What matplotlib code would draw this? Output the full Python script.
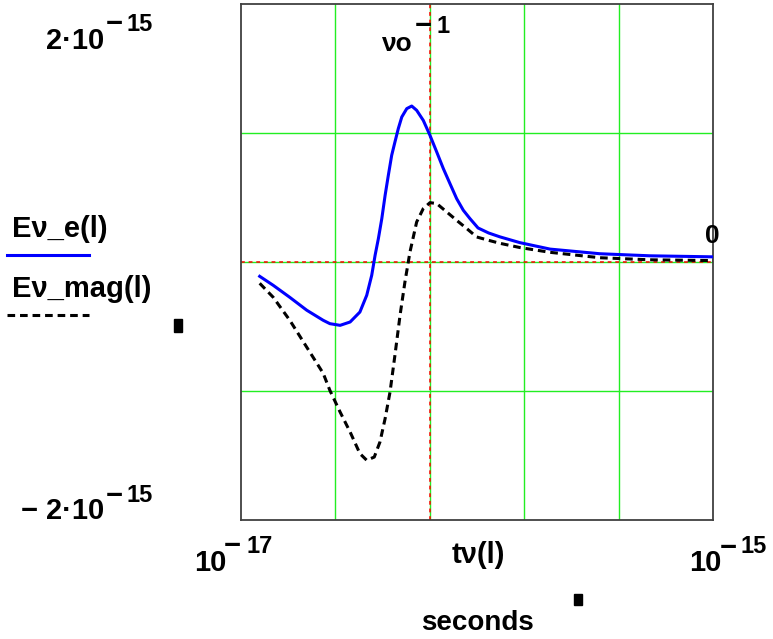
import numpy as np
import matplotlib
matplotlib.use("Agg")
import matplotlib.pyplot as plt
from matplotlib.lines import Line2D
from matplotlib.patches import Rectangle

plt.rcParams['font.family'] = ['Liberation Sans', 'DejaVu Sans']

# Ev_e(l) - solid blue
t_e = np.array([1.20e-17, 1.37e-17, 1.61e-17, 1.90e-17, 2.23e-17, 2.38e-17, 2.63e-17,
                2.90e-17, 3.19e-17, 3.41e-17, 3.58e-17, 3.70e-17, 3.82e-17, 3.95e-17,
                4.08e-17, 4.21e-17, 4.35e-17, 4.49e-17, 4.64e-17, 4.80e-17, 5.04e-17,
                5.29e-17, 5.55e-17, 5.92e-17, 6.32e-17, 6.75e-17, 7.20e-17, 7.68e-17,
                8.20e-17, 8.75e-17, 9.34e-17, 1.01e-16, 1.12e-16, 1.25e-16, 1.52e-16,
                2.04e-16, 3.32e-16, 5.41e-16, 1.00e-15])
E_e = np.array([-0.111, -0.181, -0.274, -0.374, -0.452, -0.478, -0.491,
                -0.465, -0.388, -0.258, -0.103, 0.052, 0.181, 0.336,
                0.517, 0.672, 0.827, 0.930, 1.034, 1.124, 1.189,
                1.209, 1.176, 1.098, 0.982, 0.853, 0.724, 0.608,
                0.491, 0.401, 0.336, 0.264, 0.225, 0.195, 0.150,
                0.100, 0.064, 0.048, 0.040]) * 1e-15

# Ev_mag(l) - dashed black
t_mag = np.array([1.20e-17, 1.37e-17, 1.61e-17, 1.90e-17, 2.23e-17, 2.38e-17, 2.63e-17,
                  2.90e-17, 3.19e-17, 3.41e-17, 3.67e-17, 3.88e-17, 4.08e-17, 4.28e-17,
                  4.49e-17, 4.72e-17, 4.95e-17, 5.20e-17, 5.55e-17, 5.92e-17, 6.32e-17,
                  6.75e-17, 7.44e-17, 8.20e-17, 9.05e-17, 9.97e-17, 1.12e-16, 1.25e-16,
                  1.52e-16, 2.04e-16, 3.32e-16, 5.41e-16, 1.00e-15])
E_mag = np.array([-0.165, -0.274, -0.452, -0.661, -0.863, -0.995, -1.163,
                  -1.318, -1.485, -1.537, -1.512, -1.395, -1.214, -1.008,
                  -0.723, -0.413, -0.155, 0.078, 0.310, 0.414, 0.460,
                  0.453, 0.388, 0.323, 0.259, 0.194, 0.168, 0.145,
                  0.112, 0.075, 0.033, 0.017, 0.011]) * 1e-15

t_min, t_max = 1e-17, 1e-15
E_min, E_max = -2e-15, 2e-15
nu0_inv = 10 ** -16.2

W, H = 773, 639
fig = plt.figure(figsize=(W / 100, H / 100), dpi=100)
ax = fig.add_axes([241 / W, 1 - 520 / H, 472 / W, 516 / H])

# grid (5 equal divisions in x, 4 in y)
for gx in np.logspace(-17, -15, 6)[1:-1]:
    ax.axvline(gx, color='#22ee22', lw=1, zorder=1)
for gy in [-1e-15, 0, 1e-15]:
    ax.axhline(gy, color='#22ee22', lw=1, zorder=1)

# marker lines
ax.axhline(0, color='red', lw=1.1, ls=(0, (2.5, 2.5)), zorder=2)
ax.axvline(nu0_inv, color='red', lw=1.1, ls=(0, (2.5, 2.5)), zorder=2)

ax.plot(t_e, E_e, color='#0000ff', lw=2.2, zorder=3)
ax.plot(t_mag, E_mag, color='black', lw=2.2, ls=(0, (2.5, 1.6)), zorder=3)

ax.set_xscale('log')
ax.set_xlim(t_min, t_max)
ax.set_ylim(E_min, E_max)
ax.set_xticks([])
ax.set_yticks([])
ax.minorticks_off()
for s in ax.spines.values():
    s.set_color('#404040')
    s.set_linewidth(1.3)


def put(x, y, s, size):
    fig.text(x / W, 1 - y / H, s, fontsize=size, fontweight='bold',
             ha='left', va='baseline', color='black')


# y-axis limits
put(46, 49, '2·10', 21)
put(106, 31.5, '−', 21)
put(127, 31, '15', 17)
put(21, 519, '−', 21)
put(46, 519, '2·10', 21)
put(106, 504.5, '−', 21)
put(127, 502, '15', 17)

# x-axis limits
put(194, 571, '10', 21)
put(224, 554.5, '−', 21)
put(246, 553, '17', 17)
put(689, 571, '10', 21)
put(720, 555.5, '−', 21)
put(741, 553, '15', 17)

put(452, 563, 'tν(l)', 21)
put(421, 630, 'seconds', 20)

# marker labels
put(382, 51, 'νo', 19)
put(415, 33.5, '−', 21)
put(436, 33, '1', 17)
put(705, 243, '0', 19)

# legend
put(12, 237, 'Eν_e(l)', 21)
fig.add_artist(Line2D([7 / W, 89 / W], [1 - 255 / H, 1 - 255 / H],
                      color='#0000ff', lw=2.2))
put(12, 297, 'Eν_mag(l)', 21)
fig.add_artist(Line2D([7 / W, 89 / W], [1 - 315 / H, 1 - 315 / H],
                      color='black', lw=2.2, ls=(0, (2.5, 1.6))))

# placeholder squares
for (x0, y0, x1, y1) in [(174, 319, 182, 332), (574, 594, 582, 605)]:
    fig.add_artist(Rectangle((x0 / W, 1 - y1 / H), (x1 - x0) / W, (y1 - y0) / H,
                             color='black', transform=fig.transFigure))

fig.savefig('out.png', dpi=100)
